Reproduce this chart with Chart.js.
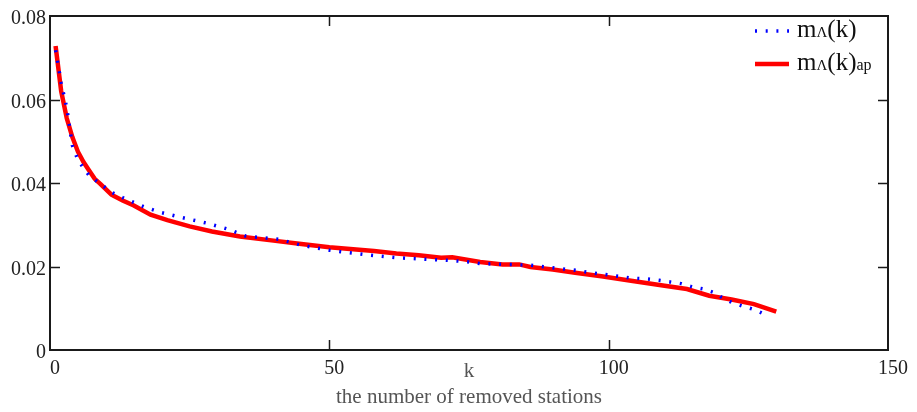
<!DOCTYPE html>
<html>
<head>
<meta charset="utf-8">
<script src="https://cdn.jsdelivr.net/npm/chart.js@4"></script>
<style>
html,body{margin:0;padding:0;background:#fff;}
#wrap{width:917px;height:412px;position:relative;}
</style>
</head>
<body>
<div id="wrap"><canvas id="c" width="917" height="412"></canvas></div>
<script>
// ---- data ----
const kBlue = [1,2,3,4,5,6,7,9,11,13,17,20,24,28,32,35,41,45,50,56,62,68,71,75,77,82,86,90,94,98,101,104,107,109,111,113,115,117,119,120,122,124,126,128];
const mBlue = [0.0718,0.064,0.058,0.049,0.0455,0.0436,0.0418,0.0398,0.0378,0.0365,0.0342,0.0329,0.0316,0.0304,0.0289,0.0273,0.0265,0.0251,0.0239,0.0229,0.0221,0.0217,0.0215,0.0211,0.0207,0.0205,0.0203,0.0197,0.0191,0.0183,0.0178,0.0172,0.0170,0.0167,0.0163,0.0159,0.0151,0.0146,0.0137,0.0128,0.0114,0.0105,0.0097,0.0085];
const kRed = [1,2,3,4,5,6,7,8,9,11,13,15,18,21,25,29,34,40,45,50,58,62,66,70,72,77,81,84,86,90,94,98,99,104,110,114,118,122,126,130];
const mRed = [0.0728,0.062,0.0555,0.051,0.0475,0.045,0.043,0.041,0.0398,0.0372,0.0358,0.0346,0.0324,0.0311,0.0296,0.0284,0.0272,0.0262,0.0254,0.0246,0.0237,0.0231,0.0227,0.0221,0.0222,0.0211,0.0205,0.0205,0.0199,0.0193,0.0185,0.0178,0.0176,0.0166,0.0154,0.0146,0.0130,0.0121,0.0110,0.0092];
const xTicks = [0,50,100,150];
const yTicks = [0,0.02,0.04,0.06,0.08];
const labelBlue = 'mΛ(k)';
const labelRed = 'mΛ(k)ap';
const xTitle = ['k','the number of removed stations'];

const SERIF = "'Liberation Serif','DejaVu Serif',serif";

const framePlugin = {
  id:'frame',
  afterDatasetsDraw(chart){
    const {ctx, chartArea:a, scales:{x,y}} = chart;
    ctx.save();
    ctx.strokeStyle = '#1a1a1a';
    ctx.lineWidth = 2;
    ctx.strokeRect(a.left, a.top, a.right-a.left, a.bottom-a.top);
    ctx.lineWidth = 1.5;
    const L = 10;
    ctx.beginPath();
    x.ticks.forEach(t=>{
      if (t.value<=x.min || t.value>=x.max) return;
      const px = Math.round(x.getPixelForValue(t.value))+0.5;
      ctx.moveTo(px,a.bottom); ctx.lineTo(px,a.bottom-L);
      ctx.moveTo(px,a.top); ctx.lineTo(px,a.top+L);
    });
    y.ticks.forEach(t=>{
      if (t.value<=y.min || t.value>=y.max) return;
      const py = Math.round(y.getPixelForValue(t.value))+0.5;
      ctx.moveTo(a.left,py); ctx.lineTo(a.left+L,py);
      ctx.moveTo(a.right,py); ctx.lineTo(a.right-L,py);
    });
    ctx.stroke();

    // legend
    const items = [
      {ds:chart.data.datasets[0], parts:[['m',25],['Λ',15],['(k)',25]], ly:31, by:37},
      {ds:chart.data.datasets[1], parts:[['m',25],['Λ',15],['(k)',25],['ap',16]], ly:64, by:70}
    ];
    const sx = a.right-133, ex = a.right-99, tx = a.right-91;
    items.forEach(it=>{
      ctx.save();
      ctx.strokeStyle = it.ds.borderColor;
      ctx.lineWidth = it.ds.borderWidth;
      ctx.setLineDash(it.ds.borderDash||[]);
      ctx.lineCap = 'butt';
      ctx.beginPath(); ctx.moveTo(sx,it.ly); ctx.lineTo(ex,it.ly); ctx.stroke();
      ctx.restore();
      let cx = tx;
      ctx.fillStyle = '#111';
      ctx.textBaseline = 'alphabetic';
      ctx.textAlign = 'left';
      it.parts.forEach(([t,s])=>{
        ctx.font = s+'px '+SERIF;
        ctx.fillText(t,cx,it.by);
        cx += ctx.measureText(t).width;
      });
    });
    ctx.restore();
  }
};

new Chart(document.getElementById('c'),{
  type:'line',
  data:{
    datasets:[
      {label:labelBlue, data:kBlue.map((k,i)=>({x:k,y:mBlue[i]})), borderColor:'#0000ff', borderWidth:3.5, borderDash:[2,8.7], pointRadius:0, tension:0, fill:false},
      {label:labelRed, data:kRed.map((k,i)=>({x:k,y:mRed[i]})), borderColor:'#ff0000', borderWidth:4.5, pointRadius:0, tension:0, fill:false}
    ]
  },
  options:{
    responsive:false,
    animation:false,
    layout:{padding:{top:12,right:29,left:0,bottom:0}},
    plugins:{legend:{display:false}, tooltip:{enabled:false}},
    scales:{
      x:{
        type:'linear', min:0, max:150,
        afterBuildTicks:s=>{s.ticks = xTicks.map(v=>({value:v}));},
        afterFit:s=>{s.height = 62;},
        grid:{display:false, drawTicks:false},
        border:{display:false},
        ticks:{font:{family:SERIF,size:20}, color:'#222', padding:7, labelOffset:5, maxRotation:0, autoSkip:false},
        title:{display:true, text:xTitle, font:{family:SERIF,size:21,lineHeight:1.24}, color:'#555', padding:{top:0,bottom:1}}
      },
      y:{
        type:'linear', min:0, max:0.08,
        afterBuildTicks:s=>{s.ticks = yTicks.map(v=>({value:v}));},
        afterFit:s=>{s.width = 50;},
        grid:{display:false, drawTicks:false},
        border:{display:false},
        ticks:{font:{family:SERIF,size:20}, color:'#222', padding:4, labelOffset:3, callback:v=> v===0 ? '0' : v.toFixed(2)}
      }
    }
  },
  plugins:[framePlugin]
});
</script>
</body>
</html>
